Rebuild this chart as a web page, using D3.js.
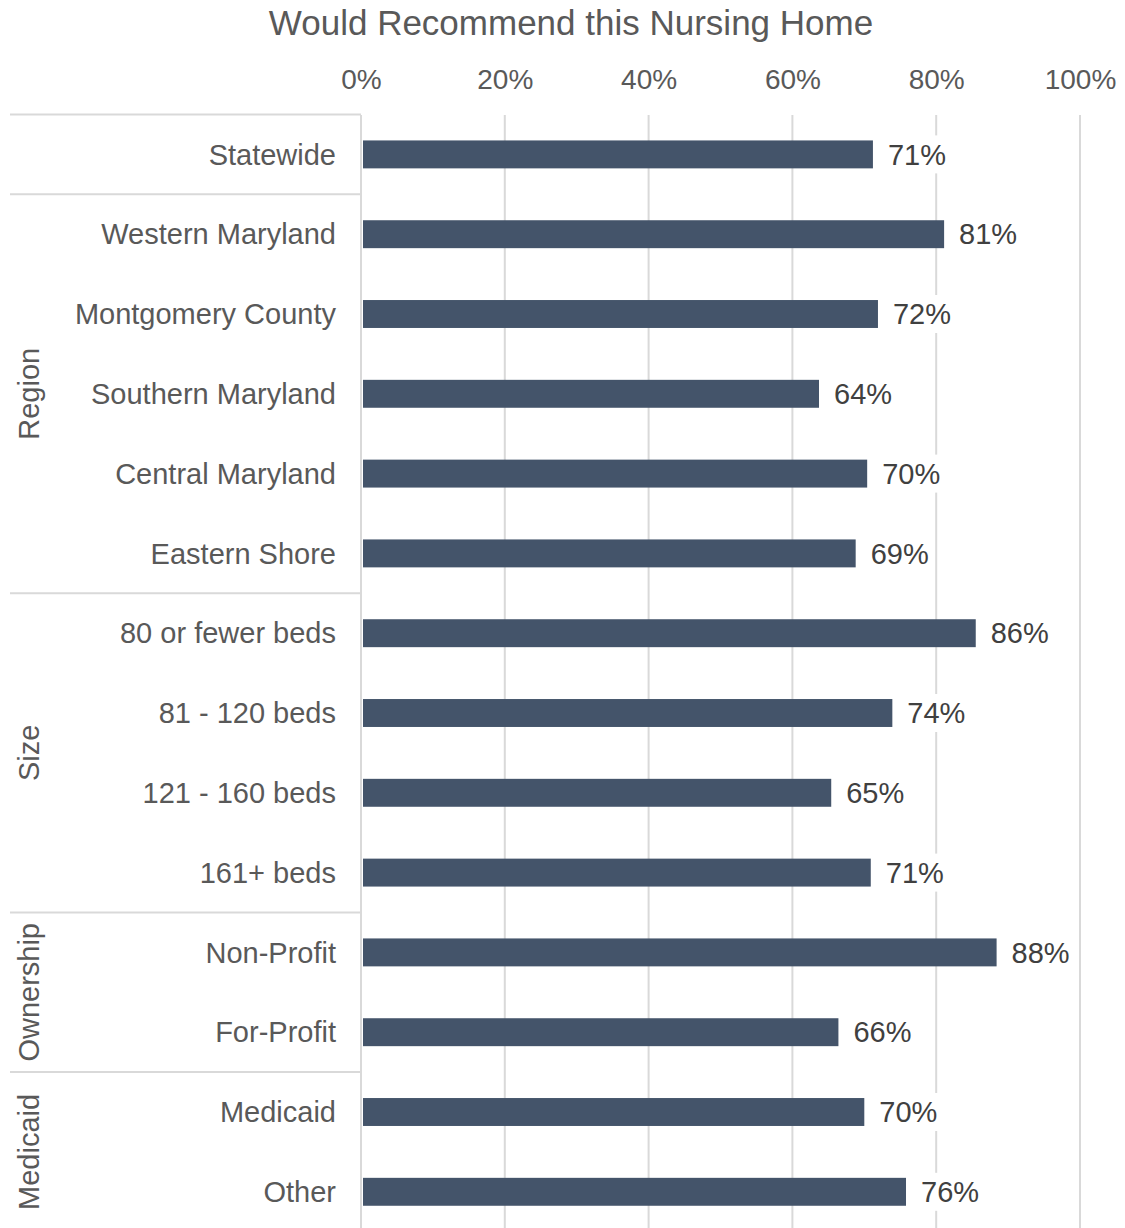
<!DOCTYPE html>
<html lang="en">
  <head>
    <meta charset="UTF-8" />
    <title>Would Recommend this Nursing Home</title>
    <script src="https://cdn.jsdelivr.net/npm/d3@7"></script>
    <style>
      body {
        margin: 0;
        background: #ffffff;
        font-family: "Liberation Sans", Arial, sans-serif;
      }
    </style>
  </head>
  <body>
    <div id="chart"></div>
    <script>
      // Data (labels shown rounded)
      const categories = [
        "Statewide",
        "Western Maryland",
        "Montgomery County",
        "Southern Maryland",
        "Central Maryland",
        "Eastern Shore",
        "80 or fewer beds",
        "81 - 120 beds",
        "121 - 160 beds",
        "161+ beds",
        "Non-Profit",
        "For-Profit",
        "Medicaid",
        "Other",
      ];
      const values = [
        71.2, 81.1, 71.9, 63.7, 70.4, 68.8, 85.5, 73.9, 65.4, 70.9, 88.4, 66.4,
        70.0, 75.8,
      ];
      const groupNames = ["", "Region", "Size", "Ownership", "Medicaid"];
      const groupSizes = [1, 5, 4, 2, 2];
      const tickValues = [0, 20, 40, 60, 80, 100];

      const data = categories.map((c, i) => ({ name: c, value: values[i] }));

      const width = 1125;
      const height = 1228;
      const textColor = "#595959";

      const svg = d3
        .select("#chart")
        .append("svg")
        .attr("width", width)
        .attr("height", height);

      const x = d3.scaleLinear().domain([0, 100]).range([361, 1080]);
      const y = d3
        .scaleBand()
        .domain(categories)
        .range([114.5, 114.5 + 79.8 * categories.length])
        .paddingInner(0.65)
        .paddingOuter(0.325);

      // Title
      svg
        .append("text")
        .attr("x", 571)
        .attr("y", 35)
        .attr("text-anchor", "middle")
        .attr("fill", textColor)
        .style("font-size", "35px")
        .text("Would Recommend this Nursing Home");

      // Gridlines
      svg
        .append("g")
        .selectAll("line")
        .data(tickValues)
        .join("line")
        .attr("x1", (d) => x(d))
        .attr("x2", (d) => x(d))
        .attr("y1", 115)
        .attr("y2", height)
        .attr("stroke", "#d9d9d9")
        .attr("stroke-width", 2);

      // Top axis labels
      const xAxis = svg
        .append("g")
        .attr("transform", "translate(0, 100)")
        .call(
          d3
            .axisTop(x)
            .tickValues(tickValues)
            .tickFormat((d) => d + "%")
            .tickSize(0)
            .tickPadding(11)
        );
      xAxis.select(".domain").remove();
      xAxis
        .selectAll(".tick text")
        .attr("fill", textColor)
        .style("font-family", '"Liberation Sans", Arial, sans-serif')
        .style("font-size", "28px");

      // Group separators and labels
      const step = y.step();
      let start = 0;
      const groups = groupSizes.map((n, i) => {
        const g = { name: groupNames[i], start: start, end: start + n };
        start += n;
        return g;
      });
      const y0 = y.range()[0];

      svg
        .append("g")
        .selectAll("line")
        .data(groups)
        .join("line")
        .attr("x1", 10)
        .attr("x2", x(0))
        .attr("y1", (d) => y0 + d.start * step)
        .attr("y2", (d) => y0 + d.start * step)
        .attr("stroke", "#d9d9d9")
        .attr("stroke-width", 2);

      svg
        .append("g")
        .selectAll("text")
        .data(groups.filter((g) => g.name))
        .join("text")
        .attr("transform", (d) => {
          const cy = y0 + ((d.start + d.end) / 2) * step;
          return `translate(39, ${cy}) rotate(-90)`;
        })
        .attr("text-anchor", "middle")
        .attr("fill", textColor)
        .style("font-size", "29px")
        .text((d) => d.name);

      // Category labels
      svg
        .append("g")
        .selectAll("text")
        .data(data)
        .join("text")
        .attr("x", 336)
        .attr("y", (d) => y(d.name) + y.bandwidth() / 2)
        .attr("dy", "0.35em")
        .attr("text-anchor", "end")
        .attr("fill", textColor)
        .style("font-size", "29px")
        .text((d) => d.name);

      // Bars
      svg
        .append("g")
        .selectAll("rect")
        .data(data)
        .join("rect")
        .attr("x", x(0) + 2)
        .attr("y", (d) => y(d.name))
        .attr("width", (d) => x(d.value) - x(0) - 2)
        .attr("height", y.bandwidth())
        .attr("fill", "#44546a");

      // Value labels with white backing
      const labels = svg
        .append("g")
        .selectAll("g")
        .data(data)
        .join("g")
        .attr(
          "transform",
          (d) => `translate(${x(d.value) + 15}, ${y(d.name) + y.bandwidth() / 2})`
        );
      labels
        .append("rect")
        .attr("x", -4)
        .attr("y", -19)
        .attr("width", 68)
        .attr("height", 38)
        .attr("fill", "#ffffff");
      labels
        .append("text")
        .attr("dy", "0.35em")
        .attr("fill", "#404040")
        .style("font-size", "29px")
        .text((d) => Math.round(d.value) + "%");
    </script>
  </body>
</html>
